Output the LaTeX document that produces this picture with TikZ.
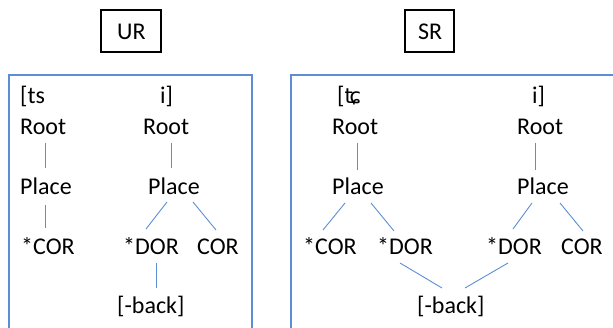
\documentclass[tikz,border=0pt]{standalone}
\usepackage{fontspec}
\setmainfont{Carlito}
\newfontfamily\ipafont{DejaVu Sans}
\usetikzlibrary{calc}
\definecolor{linkblue}{RGB}{91,142,212}
\tikzset{
  lbl/.style={anchor=base west, inner sep=0pt, font=\fontsize{24}{28}\selectfont},
  link/.style={draw=linkblue, line width=0.9pt},
  panel/.style={draw=linkblue, line width=1.2pt},
  tagbox/.style={draw=black, line width=1.4pt}
}
\begin{document}
\begin{tikzpicture}[x=1pt,y=-1pt]
\useasboundingbox (0,0) rectangle (613,328);

% headings
\draw[tagbox] (101,10) rectangle (161,52);
\node[lbl] (ur) at (117,40) {UR};
\draw[tagbox] (405,10) rectangle (454,52);
\node[lbl] (sr) at (418,40) {SR};

% panels (bottom edge runs off the page)
\draw[panel] (9,340) -- (9,75) -- (252,75) -- (252,340);
\draw[panel] (291,340) -- (291,75) -- (625,75);

% ---- underlying representation ----
\node[lbl] (segL) at (20,104) {[ts};
\node[lbl] (segR) at (160,104) {i]};
\node[lbl] (rootL) at (20,135) {Root};
\node[lbl] (rootR) at (143,135) {Root};
\node[lbl] (placeL) at (20,195) {Place};
\node[lbl] (placeR) at (148,195) {Place};
\node[lbl] (corL) at (21,255) {*COR};
\node[lbl] (dorR) at (123,255) {*DOR};
\node[lbl] (corR) at (197,255) {COR};
\node[lbl] (back) at (117,314) {[-back]};

\draw[link] ($(rootL.base west)+(25,8)$) -- ($(placeL.base west)+(25,-27)$);
\draw[link] ($(placeL.base west)+(25,10)$) -- ($(corL.base west)+(24,-27)$);
\draw[link] ($(rootR.base west)+(28,8)$) -- ($(placeR.base west)+(23,-27)$);
\draw[link] ($(placeR.base west)+(19,7)$) -- ($(dorR.base west)+(23,-26)$);
\draw[link] ($(placeR.base west)+(45,7)$) -- ($(corR.base west)+(19,-25)$);
\draw[link] ($(dorR.base west)+(33,8)$) -- ($(back.base west)+(39,-26)$);

% ---- surface representation ----
\node[lbl] (sSegL) at (337,104) {[{\ipafont\fontsize{21}{24}\selectfont ʨ}};
\node[lbl] (sSegR) at (532,104) {i]};
\node[lbl] (sRootL) at (332,135) {Root};
\node[lbl] (sRootR) at (517,135) {Root};
\node[lbl] (sPlaceL) at (332,195) {Place};
\node[lbl] (sPlaceR) at (517,195) {Place};
\node[lbl] (sCorL) at (303,255) {*COR};
\node[lbl] (sDorL) at (377,255) {*DOR};
\node[lbl] (sDorR) at (486,255) {*DOR};
\node[lbl] (sCorR) at (561,255) {COR};
\node[lbl] (sBack) at (417,314) {[-back]};

\draw[link] ($(sRootL.base west)+(25,8)$) -- ($(sPlaceL.base west)+(25,-25)$);
\draw[link] ($(sPlaceL.base west)+(13,8)$) -- ($(sCorL.base west)+(20,-25)$);
\draw[link] ($(sPlaceL.base west)+(39,8)$) -- ($(sDorL.base west)+(17,-24)$);
\draw[link] ($(sRootR.base west)+(18,8)$) -- ($(sPlaceR.base west)+(18,-25)$);
\draw[link] ($(sPlaceR.base west)+(15,8)$) -- ($(sDorR.base west)+(27,-26)$);
\draw[link] ($(sPlaceR.base west)+(43,8)$) -- ($(sCorR.base west)+(22,-24)$);
\draw[link] ($(sDorL.base west)+(23,8)$) -- ($(sBack.base west)+(25,-26)$);
\draw[link] ($(sDorR.base west)+(22,8)$) -- ($(sBack.base west)+(48,-26)$);
\end{tikzpicture}
\end{document}
